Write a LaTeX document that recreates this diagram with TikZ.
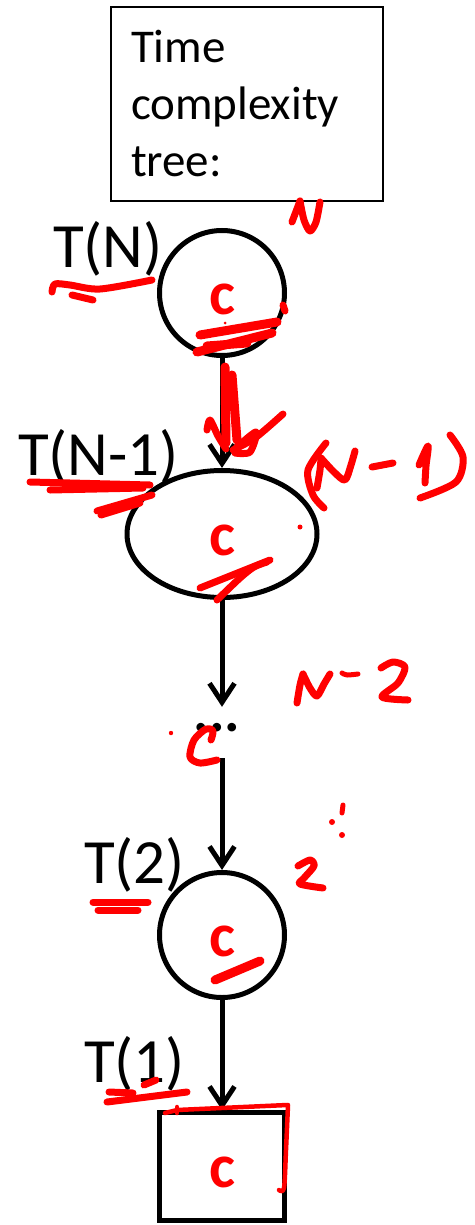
\documentclass[tikz,border=0pt]{standalone}
\usepackage{fontspec}
\setmainfont{Carlito}
\usetikzlibrary{arrows.meta,shapes.geometric}
\begin{document}
\begin{tikzpicture}[x=1pt,y=-1pt,
  nodeline/.style={draw=black,line width=5pt,inner sep=0pt,text=red,font=\fontsize{62}{62}\selectfont\bfseries,text height=42pt,text depth=0pt},
  circ/.style={nodeline,circle,minimum size=125pt},
  lab/.style={anchor=base west,inner sep=0pt,font=\fontsize{63}{63}\selectfont},
  arr/.style={line width=5pt,-{Straight Barb[length=19pt,width=25pt]}},
  ink/.style={draw=red,line width=7pt,line cap=round,line join=round},
  fat/.style={ink,line width=9pt},
  ]
\useasboundingbox (0,0) rectangle (474,1225);

% title box
\node[draw=black,line width=2pt,anchor=north west,minimum width=272pt,minimum height=194pt,
      text width=232pt,inner xsep=20pt,inner ysep=0pt,align=left,
      font=\fontsize{47}{57}\selectfont] (title) at (110,6) {Time\\complexity\\tree:};

% nodes
\node[circ] (n1) at (222,293) {c};
\node[nodeline,ellipse,minimum width=190pt,minimum height=127pt] (n2) at (222,534) {c};
\node[font=\fontsize{58}{58}\selectfont\bfseries,inner sep=0pt,text height=24pt,text depth=27pt,anchor=base] (dots) at (217,731) {...};
\node[circ] (n3) at (222,935) {c};
\node[nodeline,rectangle,minimum width=125pt,minimum height=108pt] (n4) at (222,1166.5) {c};

% labels
\node[lab] (lN) at (53,267) {T(N)};
\node[lab] (lN1) at (18,475) {T(N-1)};
\node[lab] (l2) at (84,883) {T(2)};
\node[lab] (l1) at (84,1082) {T(1)};

% connectors
\draw[arr] (n1) -- (n2);
\draw[arr] (n2) -- (n2.south |- dots.north);
\draw[arr] (dots.south -| n3.north) -- (n3);
\draw[arr] (n3) -- (n4);

% red ink: handwritten N
\draw[ink] plot[smooth] coordinates {(292,222) (300,201)};
\draw[ink] plot[smooth] coordinates {(300,201) (304,220) (310,231) (316,222) (320,202)};
% (N - 1)
\draw[ink] plot[smooth] coordinates {(326,443) (308,470) (313,495) (324,508)};
\draw[ink] plot[smooth] coordinates {(317,488) (320,470) (321,458)};
\draw[ink] plot[smooth] coordinates {(321,458) (334,472) (345,480) (351,465) (355,451)};
\draw[ink] (372,467) -- (393,463);
\draw[ink] plot[smooth] coordinates {(419,465) (428,446) (426,466) (425,483)};
\draw[ink] plot[smooth] coordinates {(450,435) (463,457) (456,482) (420,498)};
% N - 2
\draw[ink] plot[smooth] coordinates {(297,703) (300,685) (303,674)};
\draw[ink] plot[smooth] coordinates {(303,674) (310,688) (317,696) (324,684) (330,674)};
\draw[ink,line width=5pt] plot[smooth] coordinates {(342,673) (347,675) (358,674)};
\draw[ink] plot[smooth] coordinates {(381,668) (393,662) (405,667) (398,683) (382,697) (408,700)};
% C near dots
\draw[ink] plot[smooth] coordinates {(211,740) (213,731) (206,729) (194,740) (190,757) (200,763) (217,760)};
\fill[red] (171,733) circle (2.2pt);
% 2 and dots
\draw[ink] plot[smooth] coordinates {(298,866) (310,860) (314,866) (304,878) (300,884) (323,888)};
\fill[red] (332,822) circle (3pt);
\fill[red] (342,835) circle (3pt);
\draw[ink,line width=5pt] (343,805) -- (342,813);

% scribbles under labels
\draw[ink] plot[smooth] coordinates {(52,292) (55,284) (70,285) (100,289) (152,280)};
\draw[ink] (72,295) -- (93,300);
\draw[ink] (30,482) -- (150,485);
\draw[ink] (50,490) -- (143,488);
\draw[ink] (97,511) -- (152,495);
\draw[ink] (101,515) -- (140,503);
\draw[ink] (93,902) -- (148,902);
\draw[ink] (98,910) -- (138,910);
\draw[ink] (107,1102) -- (187,1092);
\draw[ink] (109,1092) -- (133,1093);
\draw[ink] (144,1085) -- (156,1080);

% scribbles in nodes
\draw[fat] (200,335) -- (277,322);
\draw[fat] (197,352) -- (272,333);
\draw[fat] (207,346) -- (247,343);
\draw[ink] (283,305) -- (285,311);
\fill[red] (225,323) circle (1.5pt);
\draw[ink] (200,588) -- (270,560);
\draw[ink] plot[smooth] coordinates {(217,600) (240,578) (254,567) (267,562)};
\fill[red] (300,527) circle (2.5pt);
\draw[fat] (215,980) -- (260,961);
\draw[ink,line width=4.5pt] (165,1113) -- (177,1110) -- (287,1105);
\draw[ink,line width=4.5pt] (177,1107) -- (177,1113);
\draw[ink,line width=4.5pt] plot[smooth] coordinates {(288,1105) (286,1150) (284,1188) (279,1190)};

% scribble over first arrow
\draw[fat] (225,367) -- (226,443);
\draw[fat] (232,375) -- (237,440);
\draw[ink] plot[smooth] coordinates {(207,430) (210,420) (218,436) (226,449)};
\draw[ink] plot[smooth] coordinates {(233,450) (255,438) (283,414)};
\draw[ink] plot[smooth] coordinates {(236,448) (256,432) (250,452) (235,453)};
\end{tikzpicture}
\end{document}
